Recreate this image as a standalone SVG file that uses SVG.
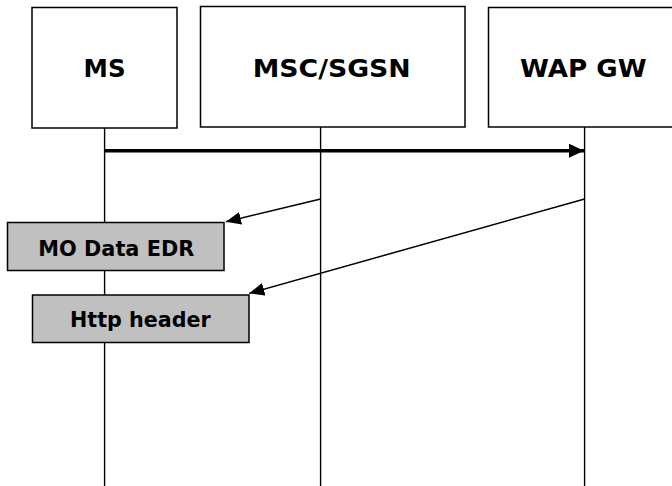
<svg xmlns="http://www.w3.org/2000/svg" width="672" height="486" viewBox="0 0 672 486">
  <style>
    .entity { fill: #ffffff; stroke: #000000; stroke-width: 1.5; }
    .record { fill: #c0c0c0; stroke: #000000; stroke-width: 1.5; }
    .lifeline { stroke: #000000; stroke-width: 1.4; fill: none; }
    .msg { stroke: #000000; stroke-width: 1.5; fill: none; }
    .msg-main { stroke: #000000; stroke-width: 3.5; fill: none; }
    .title { font-family: "DejaVu Sans", Verdana, sans-serif; font-weight: bold; font-size: 24.5px; fill: #000000; text-anchor: middle; }
    .label { font-family: "DejaVu Sans", Verdana, sans-serif; font-weight: bold; font-size: 21px; fill: #000000; text-anchor: middle; }
  </style>
  <defs>
    <marker id="headThin" markerUnits="userSpaceOnUse" markerWidth="16" markerHeight="14" refX="15" refY="6.5" orient="auto">
      <path d="M0,0 L15,6.5 L0,13 Z" fill="#000000"/>
    </marker>
    <marker id="headThick" markerUnits="userSpaceOnUse" markerWidth="16" markerHeight="16" refX="15" refY="7" orient="auto">
      <path d="M0,0 L15,7 L0,14 Z" fill="#000000"/>
    </marker>
  </defs>

  <rect width="672" height="486" fill="#ffffff"/>

  <!-- lifelines -->
  <g id="lifelines">
    <line class="lifeline" x1="104.6" y1="128" x2="104.6" y2="486"/>
    <line class="lifeline" x1="320.6" y1="127" x2="320.6" y2="486"/>
    <line class="lifeline" x1="584.6" y1="127" x2="584.6" y2="486"/>
  </g>

  <!-- entities -->
  <g id="ms">
    <rect class="entity" x="32" y="7.5" width="145" height="120.5"/>
    <text class="title" x="104.6" y="77" textLength="42" lengthAdjust="spacingAndGlyphs">MS</text>
  </g>
  <g id="msc-sgsn">
    <rect class="entity" x="200.5" y="6.5" width="264.5" height="120.5"/>
    <text class="title" x="331.7" y="77" textLength="158" lengthAdjust="spacingAndGlyphs">MSC/SGSN</text>
  </g>
  <g id="wap-gw">
    <rect class="entity" x="488.5" y="7.5" width="200" height="119.5"/>
    <text class="title" x="583.3" y="77" textLength="126.5" lengthAdjust="spacingAndGlyphs">WAP GW</text>
  </g>

  <!-- connectors -->
  <g id="connectors">
    <line class="msg-main" x1="104.6" y1="150.7" x2="584" y2="150.7" marker-end="url(#headThick)"/>
    <line class="msg" x1="320.6" y1="199" x2="226" y2="221.7" marker-end="url(#headThin)"/>
    <line class="msg" x1="584.6" y1="199" x2="249.3" y2="293.3" marker-end="url(#headThin)"/>
  </g>

  <!-- records -->
  <g id="mo-data-edr">
    <rect class="record" x="7.5" y="222.5" width="216.5" height="48"/>
    <text class="label" x="116.3" y="255.5" textLength="156" lengthAdjust="spacingAndGlyphs">MO Data EDR</text>
  </g>
  <g id="http-header">
    <rect class="record" x="32.5" y="295" width="216.5" height="47.5"/>
    <text class="label" x="140.4" y="326.5" textLength="140.7" lengthAdjust="spacingAndGlyphs">Http header</text>
  </g>
</svg>
